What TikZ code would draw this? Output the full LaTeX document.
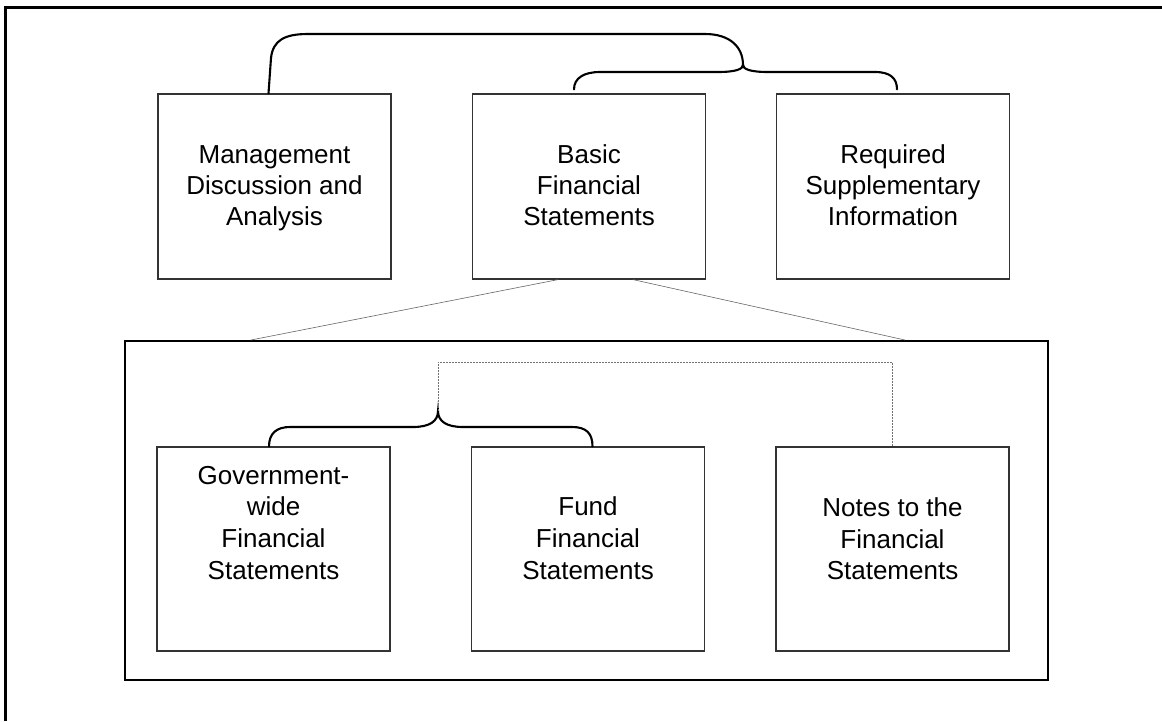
\documentclass[tikz,border=0pt]{standalone}
\usepackage{fontspec}
\setmainfont{Liberation Sans}
\usetikzlibrary{calc}
\begin{document}
\begin{tikzpicture}[x=1pt,y=-1pt,
  stmt/.style={draw=black!80, line width=1.2pt, minimum width=233pt, inner sep=0pt},
  toprow/.style={stmt, minimum height=185pt},
  lowrow/.style={stmt, minimum height=204pt},
  lbl/.style={inner sep=0pt, anchor=base, font=\fontsize{26pt}{31.5pt}\selectfont},
  brace/.style={draw=black, line width=2.1pt, line cap=round},
  spread/.style={draw=black!60, line width=0.6pt},
  notelink/.style={draw=black!55, line width=0.8pt, dash pattern=on 2pt off 1pt}]
\useasboundingbox (0,0) rectangle (1162,721);

% page frame: open on the right and at the bottom
\draw[line width=3pt] (5,721) -- (5,7) -- (1162,7);

% top row of statements
\node[toprow] (mgmt)  at (274.5,186.5) {};
\node[toprow] (basic) at (589,186.5) {};
\node[toprow] (req)   at (893,186.5) {};

% contents of the basic financial statements
\node[draw=black, line width=2pt, minimum width=923pt, minimum height=339pt, inner sep=0pt] (frame) at (586.5,510.5) {};
\node[lowrow] (gov)   at (273.5,549) {};
\node[lowrow] (fund)  at (588,549) {};
\node[lowrow] (notes) at (892.5,549) {};

% box texts
\foreach \t [count=\i from 0] in {Management, Discussion and, Analysis}
  \node[lbl] (mgmt-t\i) at (274.5,{163+31.3*\i}) {\t};
\foreach \t [count=\i from 0] in {Basic, Financial, Statements}
  \node[lbl] (basic-t\i) at (589,{163+31.3*\i}) {\t};
\foreach \t [count=\i from 0] in {Required, Supplementary, Information}
  \node[lbl] (req-t\i) at (893,{163+31.3*\i}) {\t};
\foreach \t [count=\i from 0] in {Government-, wide, Financial, Statements}
  \node[lbl] (gov-t\i) at (273.5,{484+31.67*\i}) {\t};
\foreach \t [count=\i from 0] in {Fund, Financial, Statements}
  \node[lbl] (fund-t\i) at (588,{515.7+31.67*\i}) {\t};
\foreach \t [count=\i from 0] in {Notes to the, Financial, Statements}
  \node[lbl] (notes-t\i) at (892.5,{516.5+31.67*\i}) {\t};

% brace points
\coordinate (cusp1) at (743,65);
\coordinate (cusp2) at (438,411);

% upper braces
\draw[brace] ($(mgmt.north)+(-6,0)$) -- (271,58)
  .. controls (273,40) and (285,34) .. (308,34) -- (705,34)
  .. controls (730,34) and (743,47) .. (cusp1);
\draw[brace] ($(basic.north)+(-15,-4)$)
  .. controls (574,78) and (584,72) .. (600,72) -- (718,72)
  .. controls (736,72) and (743,69) .. (cusp1)
  .. controls (743,69) and (750,72) .. (768,72) -- (875,72)
  .. controls (890,72) and (897,78) .. ($(req.north)+(4,-4)$);

% expansion lines from the basic statements
\draw[spread] ($(basic.south)+(-31,0)$) -- ($(frame.north west)+(127,0)$);
\draw[spread] ($(basic.south)+(44,0)$) -- ($(frame.north west)+(781,0)$);

% lower brace
\draw[brace] ($(gov.north)+(-4.5,0)$)
  .. controls (269,433) and (277,427) .. (290,427) -- (413,427)
  .. controls (430,427) and (438,421) .. (cusp2)
  .. controls (438,421) and (446,427) .. (463,427) -- (572,427)
  .. controls (586,427) and (592.5,433) .. ($(fund.north)+(4.5,0)$);

% dotted link to the notes
\draw[notelink] (cusp2) -- (438,362) -| (notes.north);
\end{tikzpicture}
\end{document}
